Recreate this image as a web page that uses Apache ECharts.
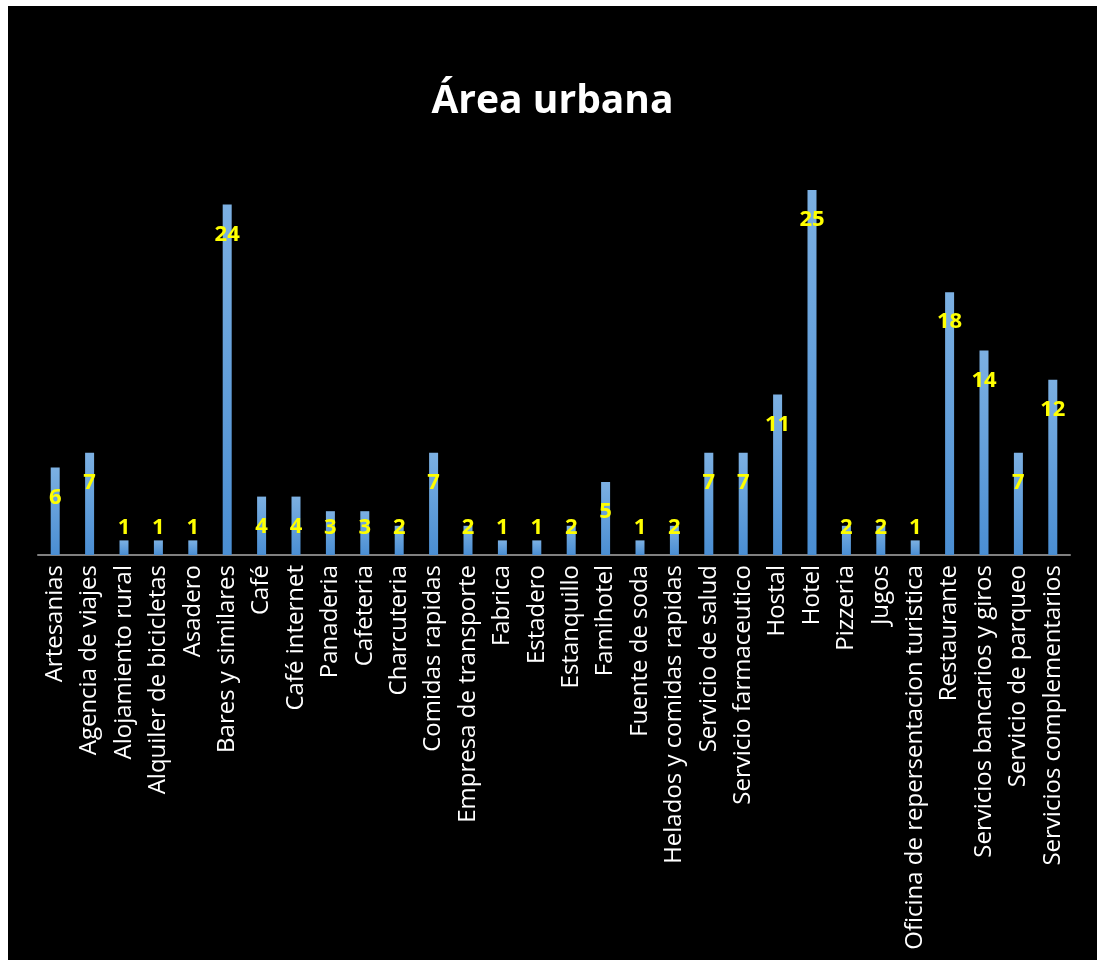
<!DOCTYPE html>
<html>
<head>
<meta charset="utf-8">
<script src="https://cdn.jsdelivr.net/npm/echarts@6/dist/echarts.min.js"></script>
<style>
html,body{margin:0;padding:0;background:#fff;width:1097px;height:960px;overflow:hidden;}
#c{position:absolute;left:8px;top:6px;width:1089px;height:954px;background:#000;}
</style>
</head>
<body>
<div id="c"></div>
<script>
const titleText = 'Área urbana';
const categories = ['Artesanias','Agencia de viajes','Alojamiento rural','Alquiler de bicicletas','Asadero','Bares y similares','Café','Café internet','Panaderia','Cafeteria','Charcuteria','Comidas rapidas','Empresa de transporte','Fabrica','Estadero','Estanquillo','Famihotel','Fuente de soda','Helados y comidas rapidas','Servicio de salud','Servicio farmaceutico','Hostal','Hotel','Pizzeria','Jugos','Oficina de repersentacion turistica','Restaurante','Servicios bancarios y giros','Servicio de parqueo','Servicios complementarios'];
const values = [6,7,1,1,1,24,4,4,3,3,2,7,2,1,1,2,5,1,2,7,7,11,25,2,2,1,18,14,7,12];

const chart = echarts.init(document.getElementById('c'), null, {renderer:'canvas'});
chart.setOption({
  backgroundColor:'#000',
  animation:false,
  title:{text:titleText,left:'center',top:71,textStyle:{color:'#fff',fontFamily:'Open Sans',fontWeight:'bold',fontSize:39}},
  grid:{left:30,right:27,top:111,bottom:405,containLabel:false},
  xAxis:{type:'category',data:categories,
    axisLine:{lineStyle:{color:'#808080',width:2}},
    axisTick:{show:false},
    axisLabel:{rotate:90,interval:0,color:'#fff',fontFamily:'Open Sans',fontSize:24,margin:10}},
  yAxis:{type:'value',min:0,max:30,interval:10,show:false,splitLine:{show:false}},
  series:[{type:'bar',data:values,barWidth:9,
    itemStyle:{color:new echarts.graphic.LinearGradient(0,0,0,1,[{offset:0,color:'#7cb0e2'},{offset:1,color:'#4a8ed3'}])},
    label:{show:true,position:'inside',color:'#ffff00',fontFamily:'Open Sans',fontWeight:'bold',fontSize:22},
    labelLayout:function(p){
      const r=p.rect;
      return {x:r.x+r.width/2,y:Math.min(r.y+30,r.y+r.height-27),align:'center',verticalAlign:'middle'};
    }
  }]
});
</script>
</body>
</html>
